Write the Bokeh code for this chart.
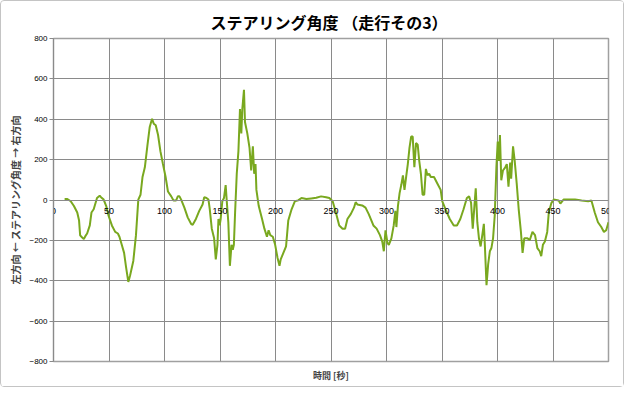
from bokeh.plotting import figure
from bokeh.models import Range1d, FixedTicker, Title
from bokeh.embed import file_html
from bokeh.resources import INLINE

# --- data ---
time_s = [10, 12.5, 15.5, 18.4, 21.4, 23, 24, 25.2, 27.3, 28.8, 30.3, 32.7, 34.2, 36.2, 39.2, 41.6, 42.8,
          45.2, 47.5, 49.6, 52.6, 55.6, 58, 59.4, 61.5, 63.6, 65.4, 67.4, 69, 71.9, 74.3, 76.4, 78.4, 80.2,
          82.3, 84.7, 86.7, 88.8, 90.3, 92.1, 94.2, 96.3, 98.6, 101, 103.1, 106.1, 108.1, 110.5, 112, 113.5,
          115, 117.9, 120.9, 123.9, 125.4, 128.3, 131.3, 134.3, 135.8, 137.8, 139.6, 140.8, 142.6, 144.7,
          146.2, 147.7, 148.6, 149.7, 150.6, 152.1, 153.6, 155.1, 156, 157.5, 158.9, 160.4, 161.5, 162.5,
          163.6, 165.1, 166.6, 168, 169.2, 170.1, 171.6, 172.5, 174.6, 176.6, 178.1, 179.6, 180.8, 182,
          182.8, 184.9, 187.9, 190, 192.3, 193.8, 195.3, 197.6, 199.7, 201.8, 203.6, 204.7, 207.1, 209.5,
          211.5, 214.5, 217.5, 220.4, 223.4, 227.8, 232.2, 236.7, 241.1, 245.6, 248.5, 251.5, 254.4, 257.4,
          260.4, 262.7, 264.8, 267.8, 270.7, 272.2, 273.7, 278.1, 281.1, 284, 288.2, 291.1, 294.1, 296.2,
          297.6, 299.1, 300.9, 302.1, 304.4, 306.5, 308, 308.9, 310.3, 311.8, 313.3, 314.8, 316.2, 317.7,
          319.2, 320.7, 322.2, 323.6, 325.1, 326.6, 328.1, 329.5, 331, 332.5, 334, 335.5, 336.9, 338.4,
          339.9, 342.8, 345.8, 348.8, 350.2, 353.2, 357, 360.6, 363.5, 366.5, 369.4, 372.4, 374.4, 376.2,
          377.7, 379.2, 380.4, 381.8, 383.3, 384.8, 386.3, 387.7, 388.6, 390.1, 391.6, 393.1, 394.5, 396,
          397.5, 399, 400.2, 401.3, 402.2, 403.4, 404.9, 407, 408.4, 409.9, 411.4, 412.3, 414, 415.5, 417.3,
          419.1, 421.1, 422.6, 424.1, 427, 429.1, 431.5, 433.8, 435.9, 438, 439.4, 440.9, 442.7, 444.8,
          446.2, 448.6, 450.7, 455.1, 456.6, 459.5, 464, 469.9, 475.8, 481.7, 484.6, 487.6, 490.5, 493.5,
          495.9, 497.9, 500]
steering_deg = [5, 5, -6, -30, -62, -100, -175, -182, -194, -178, -166, -126, -62, -46, 10, 21, 14,
                2, -30, -78, -126, -158, -166, -182, -222, -262, -334, -406, -374, -302, -174, 2, 26, 114,
                162, 274, 362, 402, 378, 370, 322, 242, 178, 114, 42, 18, -2, -2, 18, 18,
                2, -38, -86, -118, -123, -94, -54, -22, 14, 10, 2, -46, -142, -190,
                -294, -222, -94, -126, -94, -6, 10, 74, 2, -110, -326, -222, -246, -222,
                -62, 130, 242, 450, 330, 450, 546, 386, 330, 258, 146, 266, 130, 178,
                50, -30, -94, -142, -182, -150, -174, -182, -222, -286, -326, -294, -262, -230,
                -102, -46, -6, -2, 10, 5, 8, 11, 18, 14, 10, -6, -62, -126,
                -142, -142, -94, -70, -38, -11, -22, -27, -38, -70, -126, -142, -174, -206,
                -254, -150, -214, -222, -190, -126, -54, -134, -30, 34, 74, 122, 50, 114,
                178, 258, 314, 314, 162, 282, 274, 194, 130, 26, 26, 154, 122, 130,
                114, 114, 82, 50, -6, -46, -94, -126, -126, -94, -46, 10, 18, -14,
                -142, -30, 58, -110, -190, -230, -174, -118, -222, -422, -318, -254, -238, -190,
                -78, 162, 290, 194, 322, 98, 146, 162, 178, 66, 186, 106, 266, 194, 82,
                -46, -158, -262, -190, -190, -198, -158, -174, -238, -254, -278, -222, -206, -158,
                -62, -14, 2, -2, -18, 2, 2, 2, -3, -6, -2, -62, -110, -134,
                -158, -150, -110]

x_ticks = [0, 50, 100, 150, 200, 250, 300, 350, 400, 450, 500]
y_ticks = [-800, -600, -400, -200, 0, 200, 400, 600, 800]

title_text = "ステアリング角度 （走行その3）"
x_label = "時間 [秒]"
y_label = "左方向 ← ステアリング角度 → 右方向"

JP = "Noto Sans CJK JP"
GRID = "#8a8a8a"

p = figure(frame_width=555, frame_height=323,
           x_range=Range1d(0, 500), y_range=Range1d(-800, 800),
           output_backend="svg", toolbar_location=None,
           min_border_left=52, min_border_right=15, min_border_top=37, min_border_bottom=22,
           background_fill_color="white", border_fill_color="white")
p.styles = {"border": "1px solid #c4c4c4", "border-radius": "4px"}

p.title.text = title_text
p.title.text_font = JP
p.title.text_font_size = "16px"
p.title.text_font_style = "bold"
p.title.align = "left"
p.title.offset = 157
p.title.text_color = "black"

p.outline_line_color = "#a0a0a0"
p.outline_line_width = 1.5

p.line(time_s, steering_deg, line_color="#79A81F", line_width=2)

# x axis crossing at zero
xa = p.xaxis[0]
xa.fixed_location = 0
xa.ticker = FixedTicker(ticks=x_ticks)
xa.axis_line_color = GRID
xa.major_tick_in = 0
xa.major_tick_out = 0
xa.minor_tick_line_color = None
xa.major_label_text_font = "Liberation Sans"
xa.major_label_text_font_size = "9px"
xa.major_label_text_color = "black"
xa.major_label_standoff = 8

ya = p.yaxis[0]
ya.ticker = FixedTicker(ticks=y_ticks)
ya.axis_line_color = GRID
ya.major_tick_in = 0
ya.major_tick_out = 4
ya.major_tick_line_color = GRID
ya.minor_tick_line_color = None
ya.major_label_text_font = "Liberation Sans"
ya.major_label_text_font_size = "8px"
ya.major_label_text_color = "black"
ya.major_label_standoff = 2
ya.axis_label = y_label
ya.axis_label_text_font = JP
ya.axis_label_text_font_size = "10px"
ya.axis_label_text_font_style = "bold"
ya.axis_label_standoff = 3

p.add_layout(Title(text=x_label, align="center", text_font=JP, text_font_size="9px",
                   text_font_style="bold"), "below")

p.xgrid.ticker = FixedTicker(ticks=x_ticks)
p.ygrid.ticker = FixedTicker(ticks=y_ticks)
p.xgrid.grid_line_color = GRID
p.ygrid.grid_line_color = GRID
p.xgrid.grid_line_width = 1
p.ygrid.grid_line_width = 1

open("out.html", "w").write(file_html(p, INLINE))
